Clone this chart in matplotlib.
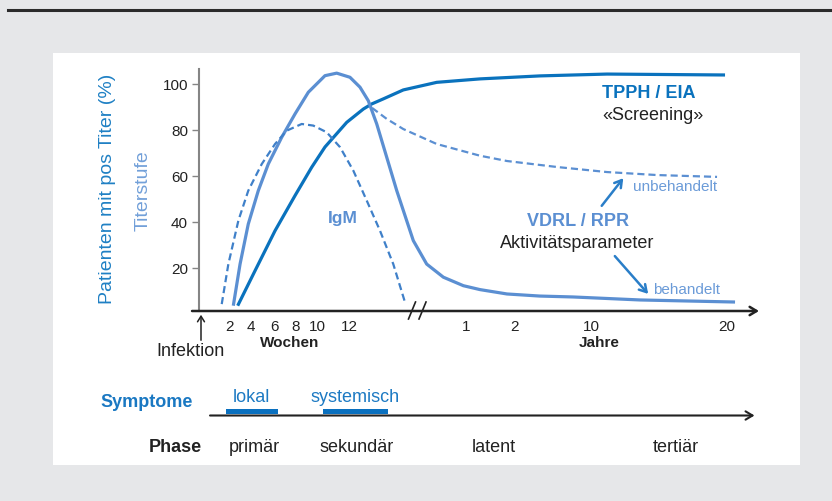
import matplotlib
matplotlib.use("Agg")
import matplotlib.pyplot as plt
from matplotlib.lines import Line2D
from matplotlib.patches import Rectangle, FancyArrowPatch

plt.rcParams['font.family'] = ['Liberation Sans', 'DejaVu Sans']

# --- data (x in "week-position" units of the schematic axis, y in %) ---
week_tick_pos = [2.5, 4.4, 6.5, 8.4, 10.3, 13.2]
week_tick_lab = ['2', '4', '6', '8', '10', '12']
year_tick_pos = [23.6, 27.9, 34.7, 46.7]
year_tick_lab = ['1', '2', '10', '20']
y_ticks = [20, 40, 60, 80, 100]

tpph_x = [3.26, 4.8, 6.58, 8.36, 9.84, 11.02, 12.95, 14.43, 15.17, 16.2, 17.98,
          20.95, 24.8, 30.13, 36.09, 46.58]
tpph_y = [3.6, 18.8, 36.2, 51.5, 63.8, 72.6, 83.3, 89.1, 91.3, 93.5, 97.4,
          100.7, 102.2, 103.5, 104.3, 103.9]

vdrl_x = [2.87, 3.47, 4.2, 5.09, 5.98, 7.17, 8.36, 9.54, 11.02, 12.06, 13.24, 14.13, 14.87,
          15.62, 16.51, 17.4, 18.28, 18.87, 20.06, 21.54, 23.32, 24.8, 27.2, 30.1, 33.07,
          39.02, 47.47]
vdrl_y = [3.6, 21.7, 39.1, 53.6, 65.2, 76.8, 87.0, 96.4, 103.6, 104.7, 102.9, 98.6, 92.7,
          82.6, 68.1, 53.6, 40.6, 31.9, 21.7, 16.0, 12.3, 10.6, 8.7, 7.8, 7.4,
          6.1, 5.2]

igm_x = [1.84, 2.43, 3.32, 4.2, 5.4, 6.58, 7.62, 8.95, 9.98, 11.17, 12.36, 13.54, 14.73,
         15.91, 17.09, 18.13]
igm_y = [4.3, 21.7, 40.6, 53.6, 65.2, 73.9, 79.7, 82.6, 81.9, 79.0, 72.5, 62.3, 49.3,
         36.2, 21.7, 5.1]

untreated_x = [15.2, 16.51, 17.98, 20.95, 24.8, 27.2, 31.64, 36.09, 40.53, 45.87]
untreated_y = [89.6, 84.8, 80.4, 73.9, 68.8, 66.5, 63.9, 61.7, 60.4, 59.6]

symptom_lab = ['lokal', 'systemisch']
symptom_start = [2.2, 10.8]
symptom_end = [6.8, 16.6]

phase_lab = ['primär', 'sekundär', 'latent', 'tertiär']
phase_pos = [4.7, 13.8, 26.0, 42.2]

DARK = '#0a72bd'
LIGHT = '#5b8fd2'
DASH = '#3f80c9'

W, H = 832, 502


def fx(p):
    return p / W


def fy(p):
    return 1 - p / H


fig = plt.figure(figsize=(8.32, 5.02), dpi=100)
fig.patch.set_facecolor('#e6e7e9')
fig.add_artist(Rectangle((fx(53), fy(466)), fx(800) - fx(53), fy(54) - fy(466),
                         transform=fig.transFigure, facecolor='white', edgecolor='none', zorder=-1))
fig.add_artist(Line2D([fx(8), 1], [fy(11.3), fy(11.3)], color='#2b2b2b', lw=2.2))

# main chart
ax = fig.add_axes([fx(199), fy(312), fx(759) - fx(199), fy(70) - fy(312)])
ax.set_facecolor('none')
ax.set_xlim(-0.18, 49.6)
ax.set_ylim(1.3, 106.5)
for s in ['top', 'right', 'bottom']:
    ax.spines[s].set_visible(False)
ax.spines['left'].set_color('#858585')
ax.spines['left'].set_linewidth(1.5)
ax.set_yticks(y_ticks)
ax.tick_params(axis='y', length=5, width=1, color='#858585', labelsize=11, labelcolor='#222222', pad=3)
ax.set_xticks(week_tick_pos + year_tick_pos, week_tick_lab + year_tick_lab)
ax.tick_params(axis='x', length=0, labelsize=11, labelcolor='#222222', pad=6)

ax.plot(tpph_x, tpph_y, color=DARK, lw=2.3, solid_capstyle='butt', solid_joinstyle='round', zorder=3)
ax.plot(vdrl_x, vdrl_y, color=LIGHT, lw=2.3, solid_capstyle='butt', solid_joinstyle='round', zorder=3)
ax.plot(igm_x, igm_y, color=DASH, lw=1.6, ls=(0, (3.2, 1.8)), zorder=3)
ax.plot(untreated_x, untreated_y, color=LIGHT, lw=1.6, ls=(0, (3.2, 1.8)), zorder=3)

ax.annotate('', xy=(49.6, 1.3), xytext=(-0.8, 1.3), annotation_clip=False,
            arrowprops=dict(arrowstyle='->,head_length=0.5,head_width=0.3', color='#222222', lw=1.8,
                            shrinkA=0, shrinkB=0))

# axis break marks
for bx in [408.5, 419]:
    fig.add_artist(Line2D([fx(bx), fx(bx + 7)], [fy(320), fy(303)], color='#222222', lw=1.2))

# infection arrow
fig.add_artist(FancyArrowPatch((fx(201), fy(344)), (fx(201), fy(313)), transform=fig.transFigure,
                               arrowstyle='->,head_length=4,head_width=2.5', color='#222222', lw=1.1))
fig.text(fx(191), fy(352), 'Infektion', ha='center', va='center', fontsize=13, color='#222222')
fig.text(fx(290), fy(343), 'Wochen', ha='center', va='center', fontsize=11, fontweight='bold', color='#222222')
fig.text(fx(599), fy(343), 'Jahre', ha='center', va='center', fontsize=11, fontweight='bold', color='#222222')

# axis titles
fig.text(fx(108), fy(189), 'Patienten mit pos Titer (%)', rotation=90, ha='center', va='center',
         fontsize=14, color='#1f80c4')
fig.text(fx(143), fy(191), 'Titerstufe', rotation=90, ha='center', va='center',
         fontsize=14, color='#72a0d9')

# annotations in chart
fig.text(fx(343), fy(219), 'IgM', ha='center', va='center', fontsize=12.5, fontweight='bold', color=LIGHT)
fig.text(fx(602), fy(93), 'TPPH / EIA', ha='left', va='center', fontsize=13, fontweight='bold', color=DARK)
fig.text(fx(602), fy(115), '«Screening»', ha='left', va='center', fontsize=13, color='#222222')
fig.text(fx(633), fy(187), 'unbehandelt', ha='left', va='center', fontsize=11, color='#6b9bd8')
fig.text(fx(578), fy(222), 'VDRL / RPR', ha='center', va='center', fontsize=13, fontweight='bold', color=LIGHT)
fig.text(fx(577), fy(243), 'Aktivitätsparameter', ha='center', va='center', fontsize=13, color='#222222')
fig.text(fx(653), fy(290), 'behandelt', ha='left', va='center', fontsize=11, color='#6b9bd8')

for (x0, y0), (x1, y1) in [((600, 209), (625, 177)), ((613, 255), (650, 297))]:
    fig.add_artist(FancyArrowPatch((fx(x0), fy(y0)), (fx(x1), fy(y1)), transform=fig.transFigure,
                                   arrowstyle='->,head_length=5,head_width=3', color='#2a7ec8', lw=1.8))

# symptom / phase timeline
ax2 = fig.add_axes([fx(199), fy(470), fx(759) - fx(199), fy(380) - fy(470)])
ax2.set_xlim(-0.18, 49.6)
ax2.set_ylim(470, 380)
ax2.axis('off')
widths = [e - s for s, e in zip(symptom_start, symptom_end)]
ax2.barh([412] * len(symptom_start), widths, left=symptom_start, height=5, color='#0a70bf')
for s, e, lab in zip(symptom_start, symptom_end, symptom_lab):
    ax2.text((s + e) / 2, 398, lab, ha='center', va='center', fontsize=13, color='#1d7ac3')
ax2.annotate('', xy=(49.2, 416.5), xytext=(0.8, 416.5), annotation_clip=False,
             arrowprops=dict(arrowstyle='->,head_length=0.5,head_width=0.3', color='#222222', lw=1.5,
                             shrinkA=0, shrinkB=0))
for p, lab in zip(phase_pos, phase_lab):
    ax2.text(p, 448, lab, ha='center', va='center', fontsize=13, color='#222222')

fig.text(fx(100), fy(403), 'Symptome', ha='left', va='center', fontsize=13, fontweight='bold', color='#1a78c2')
fig.text(fx(202), fy(448), 'Phase', ha='right', va='center', fontsize=13, fontweight='bold', color='#222222')

fig.savefig('out.png', dpi=100, facecolor=fig.get_facecolor())
